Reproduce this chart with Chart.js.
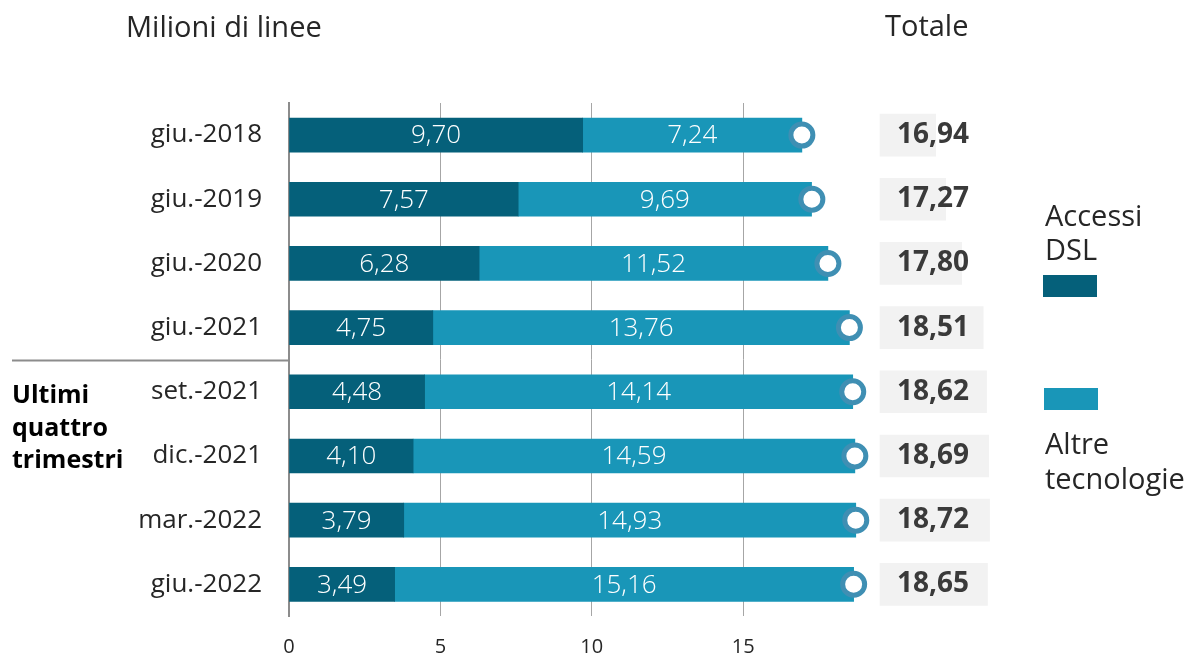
<!DOCTYPE html>
<html lang="it">
<head>
<meta charset="utf-8">
<script src="https://cdn.jsdelivr.net/npm/chart.js@4.4.0/dist/chart.umd.min.js"></script>
<style>
  body { margin: 0; background: #ffffff; font-family: "Open Sans", sans-serif; color: #262626; }
  #wrap { position: relative; width: 1192px; height: 659px; }
  .txt { position: absolute; white-space: nowrap; }
  .sw { position: absolute; width: 54px; height: 22px; }
</style>
</head>
<body>
<div id="wrap">
  <canvas id="chart"></canvas>
  <div class="txt" style="left:126px;top:11px;font-size:29px;line-height:29px;">Milioni di linee</div>
  <div class="txt" style="left:885px;top:10px;font-size:29px;line-height:29px;">Totale</div>
  <div class="txt" style="left:12px;top:377px;font-size:25px;line-height:32.5px;font-weight:bold;color:#000;">Ultimi<br>quattro<br>trimestri</div>
  <div class="txt" style="left:1045px;top:198px;font-size:29px;line-height:34px;">Accessi<br>DSL</div>
  <div class="sw" style="left:1043px;top:275px;background:#05607A;"></div>
  <div class="sw" style="left:1044px;top:388px;background:#1996B8;"></div>
  <div class="txt" style="left:1045px;top:425px;font-size:29px;line-height:35px;">Altre<br>tecnologie</div>
</div>
<script>
const periods = ["giu.-2018", "giu.-2019", "giu.-2020", "giu.-2021", "set.-2021", "dic.-2021", "mar.-2022", "giu.-2022"];
const dslLines = [9.70, 7.57, 6.28, 4.75, 4.48, 4.10, 3.79, 3.49];
const otherLines = [7.24, 9.69, 11.52, 13.76, 14.14, 14.59, 14.93, 15.16];
const totalLines = [16.94, 17.27, 17.80, 18.51, 18.62, 18.69, 18.72, 18.65];
const xTicks = [0, 5, 10, 15];

const DARK = "#05607A";
const LIGHT = "#1996B8";
const X_MAX = 29;
const BOX_FROM = 15.1;   // grey total boxes start at this value on their own axis
const BOX_SHIFT = 4.42;  // offset of the box axis against the main one

const fmt = v => v.toFixed(2).replace(".", ",");

const labelPlugin = {
  id: "labels",
  afterDatasetsDraw(chart) {
    const ctx = chart.ctx;
    ctx.save();
    ctx.textBaseline = "middle";
    // values inside the bars
    ctx.font = "300 26px 'Open Sans', sans-serif";
    ctx.fillStyle = "#ffffff";
    ctx.textAlign = "center";
    [1, 2].forEach(di => {
      const ds = chart.data.datasets[di];
      chart.getDatasetMeta(di).data.forEach((bar, i) => {
        ctx.fillText(fmt(ds.data[i]), (bar.x + bar.base) / 2, bar.y + 1);
      });
    });
    // totals in the grey boxes
    ctx.font = "bold 28px 'Open Sans', sans-serif";
    ctx.fillStyle = "#3a3a3a";
    ctx.textAlign = "left";
    chart.getDatasetMeta(3).data.forEach((bar, i) => {
      ctx.fillText(fmt(totalLines[i]), bar.base + 17, bar.y);
    });
    // separator for the last four quarters
    const y = chart.scales.y;
    const sy = Math.round((y.getPixelForValue(3) + y.getPixelForValue(4)) / 2) + 0.5;
    ctx.strokeStyle = "#8c8c8c";
    ctx.lineWidth = 2;
    ctx.beginPath();
    ctx.moveTo(12, sy);
    ctx.lineTo(chart.chartArea.left, sy);
    ctx.stroke();
    ctx.restore();
  }
};

new Chart(document.getElementById("chart"), {
  type: "bar",
  data: {
    labels: periods,
    datasets: [
      {
        type: "line",
        label: "Totale",
        data: totalLines,
        showLine: false,
        pointRadius: 11,
        pointBorderWidth: 5,
        pointBackgroundColor: "#ffffff",
        pointBorderColor: "#3F8FB3",
        order: -1,
      },
      {
        label: "Accessi DSL",
        data: dslLines,
        backgroundColor: DARK,
        barThickness: 34,
      },
      {
        label: "Altre tecnologie",
        data: otherLines,
        backgroundColor: LIGHT,
        barThickness: 34,
      },
      {
        label: "Totale box",
        data: totalLines.map(t => [BOX_FROM, t]),
        xAxisID: "x2",
        backgroundColor: "#F2F2F2",
        barThickness: 42,
        grouped: false,
      },
    ],
  },
  options: {
    indexAxis: "y",
    responsive: true,
    maintainAspectRatio: false,
    animation: false,
    layout: { padding: { left: 0, top: 103, right: 25, bottom: 0 } },
    plugins: { legend: { display: false }, tooltip: { enabled: false } },
    scales: {
      x: {
        stacked: true,
        min: 0,
        max: X_MAX,
        afterBuildTicks: s => { s.ticks = xTicks.map(v => ({ value: v })); },
        afterFit: s => { s.height = 40; },
        ticks: {
          padding: 19,
          color: "#262626",
          font: { size: 20, family: "'Open Sans', sans-serif" },
        },
        grid: { color: "#a6a6a6", lineWidth: 1, drawTicks: false },
        border: { display: false },
      },
      x2: {
        display: false,
        min: -BOX_SHIFT,
        max: X_MAX - BOX_SHIFT,
      },
      y: {
        stacked: true,
        afterFit: s => { s.width = 289; },
        ticks: {
          padding: 27,
          color: "#262626",
          font: { size: 26, family: "'Open Sans', sans-serif" },
        },
        grid: { display: false, drawTicks: false },
        border: { display: true, color: "#8c8c8c", width: 2 },
      },
    },
  },
  plugins: [labelPlugin],
});
</script>
</body>
</html>
